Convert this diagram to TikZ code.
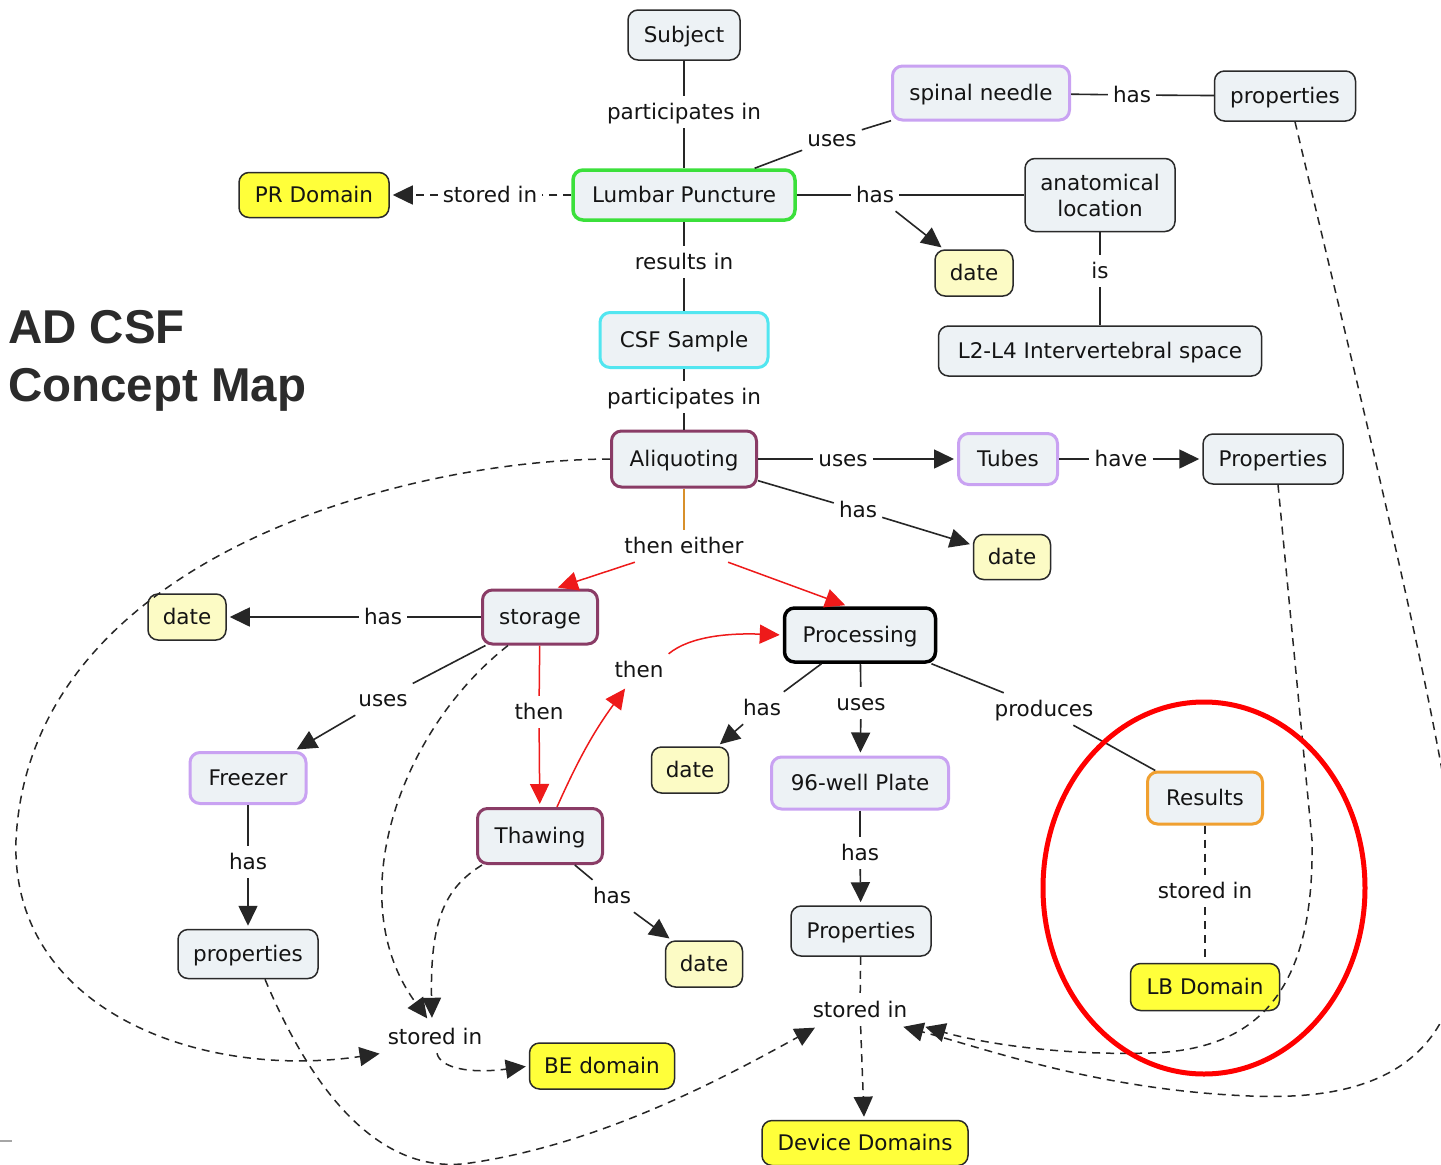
\documentclass[tikz,border=0pt]{standalone}
\usepackage{fontspec}
\setmainfont{DejaVu Sans}
\newfontfamily\titlefont{Liberation Sans}
\usetikzlibrary{arrows.meta,calc}
\definecolor{cfill}{HTML}{EDF2F5}
\definecolor{cbord}{HTML}{2A2A2A}
\definecolor{dfill}{HTML}{FCFBC5}
\definecolor{yfill}{HTML}{FFFF3A}
\definecolor{cpurple}{HTML}{C9A2F2}
\definecolor{cgreen}{HTML}{3BE03B}
\definecolor{ccyan}{HTML}{52E6F0}
\definecolor{cmaroon}{HTML}{8A3C66}
\definecolor{corange}{HTML}{F0A030}
\definecolor{cred}{HTML}{EE1A1A}
\definecolor{cring}{HTML}{FF0000}
\definecolor{titlegray}{HTML}{2B2B2B}
\newcommand\cmapfont{\fontsize{21.5}{26}\selectfont}
\tikzset{
  cnode/.style={rounded corners=10pt, draw=cbord, line width=1.5pt, fill=cfill,
    minimum height=50pt, inner sep=4pt, font=\cmapfont, align=center,
    text height=17pt, text depth=3pt, text=black!92},
  cpurp/.style={cnode, draw=cpurple, line width=3pt},
  cgrn/.style={cnode, draw=cgreen, line width=3.5pt},
  ccyn/.style={cnode, draw=ccyan, line width=3pt},
  cmar/.style={cnode, draw=cmaroon, line width=3pt},
  corg/.style={cnode, draw=corange, line width=3pt},
  cblk/.style={cnode, draw=black, line width=3.5pt},
  cdate/.style={cnode, fill=dfill, minimum height=46pt},
  cdom/.style={cnode, fill=yfill, minimum height=46pt},
  lphr/.style={font=\cmapfont, inner xsep=5pt, inner ysep=6pt, text height=17pt, text depth=3pt, text=black!92},
  lnk/.style={draw=black!85, line width=1.6pt},
  tipk/.style={-{Triangle[length=20pt,width=19pt]}, shorten >=3pt},
  lnkarr/.style={lnk, tipk},
  dlnk/.style={lnk, line width=1.5pt, dash pattern=on 8pt off 6pt},
  dlnkarr/.style={dlnk, tipk},
  rlnk/.style={draw=cred, line width=1.5pt},
  rlnkarr/.style={rlnk, tipk},
  olnk/.style={draw=corange!90!black, line width=1.2pt},
}
\begin{document}
\begin{tikzpicture}[x=1pt,y=-1pt]
\fill[white] (0,0) rectangle (1441,1165);
\useasboundingbox (0,0) rectangle (1441,1165);
\clip (0,0) rectangle (1441,1165);

% title
\node[anchor=base west, inner sep=0, text=titlegray, font=\titlefont\bfseries\fontsize{47.5}{55}\selectfont] (title1) at (8,343) {AD CSF};
\node[anchor=base west, inner sep=0, text=titlegray, font=\titlefont\bfseries\fontsize{47.5}{55}\selectfont] (title2) at (8,401) {Concept Map};

% concepts
\node[cnode, minimum width=112pt] (subject) at (684,35) {Subject};
\node[cpurp, minimum width=177pt, minimum height=54pt] (needle) at (981,93) {spinal needle};
\node[cnode, minimum width=141pt] (propTR) at (1285,96) {properties};
\node[cdom, minimum width=150pt, minimum height=45pt] (pr) at (314,195) {PR Domain};
\node[cgrn, minimum width=222pt] (lp) at (684,195) {Lumbar Puncture};
\node[cnode, minimum width=150pt, minimum height=73pt, text height=, text depth=] (anat) at (1100,195) {anatomical\\location};
\node[cdate, minimum width=78pt] (date1) at (974,273) {date};
\node[ccyn, minimum width=168pt, minimum height=55pt] (csf) at (684,340) {CSF Sample};
\node[cnode, minimum width=323pt] (l2l4) at (1100,351) {L2-L4 Intervertebral space};
\node[cmar, minimum width=145pt, minimum height=56pt] (aliq) at (684,459) {Aliquoting};
\node[cpurp, minimum width=99pt, minimum height=51pt] (tubes) at (1008,459) {Tubes};
\node[cnode, minimum width=140pt] (propTubes) at (1273,459) {Properties};
\node[cdate, minimum width=77pt, minimum height=45pt] (date2) at (1012,557) {date};
\node[cmar, minimum width=115pt, minimum height=54pt] (storage) at (540,617) {storage};
\node[cdate, minimum width=78pt] (date3) at (187,617) {date};
\node[cblk, minimum width=151pt, minimum height=54pt] (processing) at (860,635) {Processing};
\node[cpurp, minimum width=116pt, minimum height=51pt] (freezer) at (248,778) {Freezer};
\node[cdate, minimum width=77pt] (date4) at (690,770) {date};
\node[cpurp, minimum width=177pt, minimum height=52pt] (plate) at (860,783) {96-well Plate};
\node[corg, minimum width=115pt, minimum height=52pt] (results) at (1205,798) {Results};
\node[cmar, minimum width=125pt, minimum height=55pt] (thawing) at (540,836) {Thawing};
\node[cnode, minimum width=140pt, minimum height=49pt] (propFreezer) at (248,954) {properties};
\node[cdate, minimum width=77pt] (date5) at (704,964) {date};
\node[cnode, minimum width=140pt] (propPlate) at (861,931) {Properties};
\node[cdom, minimum width=149pt, minimum height=47pt] (lb) at (1205,987) {LB Domain};
\node[cdom, minimum width=145pt] (be) at (602,1066) {BE domain};
\node[cdom, minimum width=206pt, minimum height=45pt] (device) at (865,1143) {Device Domains};

% linking phrases
\node[lphr] (l1) at (684,112) {participates in};
\node[lphr] (l2) at (832,139) {uses};
\node[lphr] (l3) at (1132,95) {has};
\node[lphr] (l4) at (490,195) {stored in};
\node[lphr] (l5) at (875,195) {has};
\node[lphr] (l6) at (1100,271) {is};
\node[lphr] (l7) at (684,262) {results in};
\node[lphr] (l8) at (684,397) {participates in};
\node[lphr] (l9) at (843,459) {uses};
\node[lphr] (l10) at (1121,459) {have};
\node[lphr] (l11) at (858,510) {has};
\node[lphr] (l12) at (684,546) {then either};
\node[lphr] (l13) at (383,617) {has};
\node[lphr] (l14) at (383,699) {uses};
\node[lphr] (l15) at (539,712) {then};
\node[lphr] (l16) at (639,670) {then};
\node[lphr] (l17) at (762,708) {has};
\node[lphr] (l18) at (861,703) {uses};
\node[lphr] (l19) at (1044,709) {produces};
\node[lphr] (l20) at (248,862) {has};
\node[lphr] (l21) at (612,896) {has};
\node[lphr] (l22) at (860,853) {has};
\node[lphr] (l23) at (1205,891) {stored in};
\node[lphr] (l24) at (860,1010) {stored in};
\node[lphr] (l25) at (435,1037) {stored in};

% solid links
\draw[lnk] (subject) -- (l1); \draw[lnk] (l1) -- (lp);
\draw[lnk] (lp) -- (l2); \draw[lnk] (l2) -- (needle);
\draw[lnk] (needle) -- (l3); \draw[lnk] (l3) -- (propTR);
\draw[dlnk] (lp) -- (l4); \draw[dlnkarr] (l4) -- (pr);
\draw[lnk] (lp) -- (l5); \draw[lnk] (l5) -- (anat); \draw[lnkarr] (l5) -- (date1);
\draw[lnk] (anat) -- (l6); \draw[lnk] (l6) -- (l2l4);
\draw[lnk] (lp) -- (l7); \draw[lnk] (l7) -- (csf);
\draw[lnk] (csf) -- (l8); \draw[lnk] (l8) -- (aliq);
\draw[lnk] (aliq) -- (l9); \draw[lnkarr] (l9) -- (tubes);
\draw[lnk] (tubes) -- (l10); \draw[lnkarr] (l10) -- (propTubes);
\draw[lnk] (aliq) -- (l11); \draw[lnkarr] (l11) -- (date2);
\draw[olnk] (aliq) -- (l12);
\draw[rlnkarr] (l12) -- ([xshift=15pt]storage.north);
\draw[rlnkarr] (l12) -- ([xshift=-12pt]processing.north);
\draw[lnk] (storage) -- (l13); \draw[lnkarr] (l13) -- (date3);
\draw[lnk] (storage) -- (l14); \draw[lnkarr] (l14) -- (freezer);
\draw[rlnk] (storage) -- (l15); \draw[rlnkarr] (l15) -- (thawing);
\draw[rlnkarr] ([xshift=17pt]thawing.north) to[bend left=6] (l16);
\draw[rlnkarr] (l16.north east) .. controls (690,636) and (730,633) .. (processing.west);
\draw[lnk] (processing) -- (l17); \draw[lnkarr] (l17) -- (date4);
\draw[lnk] (processing) -- (l18); \draw[lnkarr] (l18) -- (plate);
\draw[lnk] (processing) -- (l19); \draw[lnk] (l19) -- (results);
\draw[lnk] (freezer) -- (l20); \draw[lnkarr] (l20) -- (propFreezer);
\draw[lnk] (thawing) -- (l21); \draw[lnkarr] (l21) -- (date5);
\draw[lnk] (plate) -- (l22); \draw[lnkarr] (l22) -- (propPlate);
\draw[dlnk] (results) -- (l23); \draw[dlnk] (l23) -- (lb);
\draw[dlnk] (propPlate) -- (l24); \draw[dlnkarr] (l24) -- (device);

% dashed curves into "stored in" (BE)
\draw[dlnkarr] (aliq.west) .. controls (400,460) and (30,560) .. (16,840)
   .. controls (10,1010) and (200,1080) .. (l25.south west);
\draw[dlnkarr] ([xshift=-32pt]storage.south) .. controls (400,730) and (340,900) .. ([xshift=-6pt]l25.north);
\draw[dlnkarr] ([xshift=-58pt]thawing.south) .. controls (445,888) and (430,920) .. ([xshift=-3pt]l25.north);
\draw[dlnkarr] ([xshift=2pt]l25.south) .. controls (440,1068) and (470,1074) .. (be.west);

% dashed curves into "stored in" (Device)
\draw[dlnkarr] ([xshift=17pt]propFreezer.south) .. controls (320,1110) and (390,1175) .. (470,1163)
   .. controls (600,1144) and (720,1080) .. ([xshift=10pt]l24.south west);
\draw[dlnkarr] ([xshift=5pt]propTubes.south) -- (1312,840)
   .. controls (1315,1000) and (1250,1050) .. (1150,1053)
   .. controls (1050,1056) and (970,1040) .. ([xshift=10pt,yshift=-16pt]l24.east);
\draw[dlnkarr] ([xshift=10pt]propTR.south) .. controls (1380,480) and (1455,780) .. (1462,920)
   .. controls (1465,1080) and (1350,1100) .. (1250,1096)
   .. controls (1100,1090) and (990,1050) .. ([xshift=-12pt,yshift=-16pt]l24.east);

% red highlight ellipse
\draw[cring, line width=5pt] (1204,888) ellipse [x radius=161pt, y radius=186pt];

% small footer mark
\draw[gray!70, line width=2pt] (0,1141) -- (12,1141);
\end{tikzpicture}
\end{document}
